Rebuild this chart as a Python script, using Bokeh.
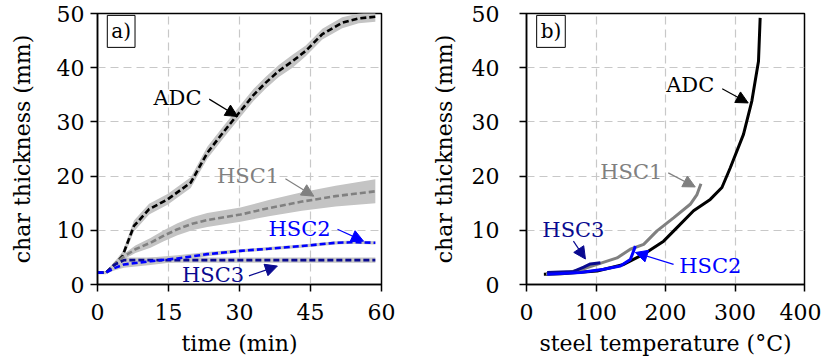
from bokeh.plotting import figure
from bokeh.layouts import row
from bokeh.models import Arrow, NormalHead, Label, Range1d, FixedTicker
from bokeh.embed import file_html
from bokeh.resources import INLINE

# ---------------- panel a: char thickness vs time ----------------
adc_t = [0, 1.8, 4, 5.3, 7.7, 10.9, 14.8, 19.7, 23.2, 26.5, 30.2, 33, 35.5, 38.3, 41.2, 44, 47.5, 51.7, 55.2, 58.7]
adc_y = [2.2, 2.2, 4.0, 5.3, 10.8, 13.9, 15.7, 18.8, 24.3, 28.0, 32.0, 35.0, 37.2, 39.4, 41.2, 43.1, 46.2, 48.3, 49.1, 49.4]
adc_hw = [0.3, 0.3, 0.6, 0.8, 1.0, 1.0, 1.0, 1.0, 1.1, 1.1, 1.1, 1.1, 1.1, 1.1, 1.2, 1.0, 1.0, 1.0, 0.9, 0.9]

hsc1_t = [0, 1.8, 4, 5.3, 8, 11.2, 14, 16.9, 20, 23.2, 30.2, 36.2, 43.2, 50.3, 58.7]
hsc1_y = [2.2, 2.2, 4.0, 5.0, 6.5, 7.7, 9.0, 10.2, 11.2, 11.9, 12.9, 14.1, 15.3, 16.3, 17.2]
hsc1_hw = [0.2, 0.2, 0.4, 0.5, 0.7, 0.9, 1.0, 1.1, 1.2, 1.3, 1.3, 1.5, 1.7, 1.9, 2.2]

hsc2_t = [0, 1.8, 3.5, 5.6, 11.2, 16.9, 23.2, 30.2, 36.2, 43.2, 50.3, 54, 58.7]
hsc2_y = [2.2, 2.2, 3.0, 3.7, 4.3, 4.8, 5.6, 6.2, 6.6, 7.1, 7.7, 7.8, 7.7]
hsc2_hw = [0.2, 0.2, 0.4, 0.6, 0.7, 0.6, 0.4, 0.3, 0.3, 0.3, 0.3, 0.3, 0.3]

hsc3_t = [0, 1.8, 3.5, 5.6, 10, 20, 30, 40, 50, 58.7]
hsc3_y = [2.2, 2.2, 3.6, 4.5, 4.5, 4.5, 4.5, 4.5, 4.5, 4.5]
hsc3_hw = [0.2, 0.2, 0.4, 0.5, 0.5, 0.5, 0.5, 0.5, 0.5, 0.5]

# ---------------- panel b: char thickness vs steel temperature ----------------
adc_T = [25, 50, 72.8, 101.6, 139.8, 168.6, 197.3, 216.5, 240.4, 264.4, 281.2, 293.1, 312.2, 324.3, 333.8, 336.2]
adc_Y = [1.9, 2.0, 2.2, 2.5, 3.7, 5.6, 8.0, 10.5, 13.6, 15.7, 17.9, 21.5, 27.7, 33.9, 41.2, 49.2]

hsc1_T = [28, 60, 80, 101.6, 130.3, 149.4, 168.6, 187.8, 211.6, 235.6, 245.3, 251]
hsc1_Y = [2.0, 2.2, 2.8, 3.7, 4.9, 6.5, 7.4, 9.9, 12.3, 14.8, 16.6, 18.6]

hsc2_T = [29.7, 77.6, 111, 135, 149.4, 154.2, 156.6]
hsc2_Y = [1.9, 2.2, 2.8, 3.4, 4.6, 6.2, 7.1]

hsc3_T = [29.7, 68, 82.3, 92, 106.3]
hsc3_Y = [2.2, 2.4, 3.2, 3.8, 4.0]

x_ticks_a = [0, 15, 30, 45, 60]
x_ticks_b = [0, 100, 200, 300, 400]
y_ticks = [0, 10, 20, 30, 40, 50]

FONT = "DejaVu Serif"
GRAY = "#808080"
BAND = "#c4c4c4"
BLUE = "#0000ff"
NAVY = "#0a0a90"


def style(p, xticks, xlabel):
    p.xaxis.ticker = FixedTicker(ticks=xticks)
    p.yaxis.ticker = FixedTicker(ticks=y_ticks)
    p.xaxis.axis_label = xlabel
    p.yaxis.axis_label = "char thickness (mm)"
    for ax in (p.xaxis, p.yaxis):
        ax.axis_label_text_font = FONT
        ax.axis_label_text_font_style = "normal"
        ax.axis_label_text_font_size = "22px"
        ax.major_label_text_font = FONT
        ax.major_label_text_font_size = "22px"
        ax.axis_label_text_color = "black"
        ax.major_label_text_color = "black"
        ax.axis_line_color = "black"
        ax.axis_line_width = 1.5
        ax.major_tick_line_color = "black"
        ax.major_tick_line_width = 1.5
        ax.major_tick_in = 0
        ax.major_tick_out = 7
        ax.minor_tick_line_color = None
    p.xaxis.major_label_standoff = 12
    p.xaxis.axis_label_standoff = 8
    p.grid.grid_line_color = "#c8c8c8"
    p.grid.grid_line_dash = "8 5"
    p.grid.grid_line_width = 1.2
    p.outline_line_color = "black"
    p.outline_line_width = 1.5
    p.background_fill_color = "white"
    p.border_fill_color = "white"


def annotate(p, text, x, y, color, x0, y0, x1, y1):
    p.add_layout(Label(x=x, y=y, text=text, text_font=FONT, text_font_size="21px",
                       text_color=color, text_align="center", text_baseline="middle"))
    p.add_layout(Arrow(end=NormalHead(size=12, fill_color=color, line_color=color),
                       x_start=x0, y_start=y0, x_end=x1, y_end=y1,
                       line_color=color, line_width=1.2))


def panel_label(p, text, x, y):
    p.add_layout(Label(x=x, y=y, text=text, text_font=FONT, text_font_size="20px",
                       text_color="black", text_align="center", text_baseline="middle",
                       border_line_color="black", border_line_width=1,
                       background_fill_color="white", padding=4))


# ---- figure a ----
pa = figure(width=410, height=359, output_backend="svg", toolbar_location=None,
            x_range=Range1d(0, 60), y_range=Range1d(0, 50),
            min_border_left=97, min_border_right=29, min_border_top=13, min_border_bottom=75)
style(pa, x_ticks_a, "time (min)")
pa.yaxis.major_label_standoff = 6
pa.yaxis.axis_label_standoff = 19

for t, y, hw in [(adc_t, adc_y, adc_hw), (hsc1_t, hsc1_y, hsc1_hw),
                 (hsc2_t, hsc2_y, hsc2_hw), (hsc3_t, hsc3_y, hsc3_hw)]:
    pa.varea(x=t, y1=[a - b for a, b in zip(y, hw)], y2=[a + b for a, b in zip(y, hw)],
             fill_color=BAND, fill_alpha=1.0)

pa.line(adc_t, adc_y, line_color="black", line_width=2.6, line_dash="6 3")
pa.line(hsc1_t, hsc1_y, line_color=GRAY, line_width=2.6, line_dash="6 3")
pa.line(hsc3_t, hsc3_y, line_color=NAVY, line_width=2.6, line_dash="6 3")
pa.line(hsc2_t, hsc2_y, line_color=BLUE, line_width=2.6, line_dash="6 3")

annotate(pa, "ADC", 16.9, 34.5, "black", 23.6, 34.2, 29.6, 31.0)
annotate(pa, "HSC1", 31.8, 20.0, GRAY, 39.7, 19.5, 45.7, 16.3)
annotate(pa, "HSC2", 42.7, 10.3, BLUE, 50.7, 10.2, 56.2, 8.0)
annotate(pa, "HSC3", 24.4, 1.75, NAVY, 32.0, 1.6, 38.0, 3.4)
panel_label(pa, "a)", 5.0, 46.7)

# ---- figure b ----
pb = figure(width=411, height=359, output_backend="svg", toolbar_location=None,
            x_range=Range1d(0, 400), y_range=Range1d(0, 50),
            min_border_left=116, min_border_right=17, min_border_top=13, min_border_bottom=75)
style(pb, x_ticks_b, "steel temperature (°C)")
pb.yaxis.major_label_standoff = 20
pb.yaxis.axis_label_standoff = 12

pb.line(adc_T, adc_Y, line_color="black", line_width=3)
pb.line(hsc1_T, hsc1_Y, line_color=GRAY, line_width=3)
pb.line(hsc3_T, hsc3_Y, line_color=NAVY, line_width=3)
pb.line(hsc2_T, hsc2_Y, line_color=BLUE, line_width=3)

annotate(pb, "ADC", 235.6, 36.8, "black", 281.6, 36.1, 319.0, 33.5)
annotate(pb, "HSC1", 150.9, 20.7, GRAY, 204.0, 20.6, 242.8, 18.0)
annotate(pb, "HSC3", 67.5, 10.1, NAVY, 67.5, 8.0, 84.8, 4.7)
annotate(pb, "HSC2", 264.4, 3.4, BLUE, 211.6, 3.7, 156.6, 5.9)
panel_label(pb, "b)", 35.2, 46.7)

layout = row(pa, pb)
open("out.html", "w").write(file_html(layout, INLINE))
